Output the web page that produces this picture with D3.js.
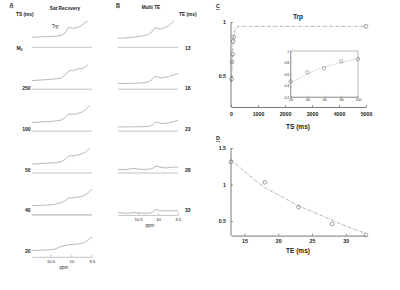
<!DOCTYPE html>
<html>
<head>
<meta charset="utf-8">
<script src="https://cdn.jsdelivr.net/npm/d3@7"></script>
<style>
  body, html { margin: 0; padding: 0; background: #fff; font-family: "Liberation Sans", Arial, sans-serif; }
  text { fill: #222; }
  .bold { font-weight: bold; }
</style>
</head>
<body>
<div id="container"></div>
<script>
// ---- data ----
const ppm = [11.0, 10.8, 10.6, 10.4, 10.25, 10.15, 10.08, 10.02, 9.97, 9.9, 9.82, 9.74, 9.66, 9.6, 9.55, 9.5];

const satLabels = ["M0", "250", "100", "50", "40", "20"];
const satSpectra = [
  [10, 10.3, 10.6, 11, 11.8, 14.3, 19.3, 19.8, 19, 19.3, 20.3, 22.3, 24.8, 26.3, null, null],
  [8.7, 9, 9.6, 10.2, 11, 14, 17.5, 18.8, 18.5, 19.5, 20.5, 20.5, 22.5, 24.5, null, null],
  [8.7, 9, 9.5, 10, 11, 13.5, 16.7, 17, 17, 17, 18, 19, 21.5, 24, 25.5, null],
  [9, 9.3, 9.8, 10.3, 11.2, 13.5, 16.6, 17.2, 17.3, 17.4, 18.2, 19.2, 21, 23, 25, null],
  [9.3, 9.4, 9.8, 10.5, 12.3, 14, 16.7, 17, 17.1, 17.4, 17.8, 18.5, 20, 22, 24, 25.7],
  [6.3, 6.5, 6.8, 7.6, 10.3, 11.2, 12, 12.2, 12.3, 12.5, 13, 13.5, 15, 16.5, 18.5, 19.7]
];

const teLabels = ["13", "18", "23", "28", "33"];
const teSpectra = [
  [9, 9.5, 10.2, 11.2, 12.8, 15.5, 19.5, 19.2, 18.4, 18.6, 20, 21.5, 24, 26.3, null, null],
  [5.7, 5.8, 6, 6.3, 7.2, 9.5, 12.8, 12.5, 11.8, 11.4, 12, 12.8, 13.5, 14.3, 15.2, 15.7],
  [4.2, 4.2, 4.3, 4.4, 4.6, 5.5, 8.5, 9, 8, 7.6, 7.8, 8.2, 8.8, 9.5, 10.2, 10.8],
  [3.3, 3.5, 4.6, 3.5, 3.8, 4.2, 6.3, 6.8, 6, 5.6, 5, 5.5, 5.8, 5.8, 6, 6],
  [2.3, 1.6, 2.3, 1.8, 1.6, 2.5, 5, 5.3, 4.4, 4, 4, 4.1, 4, 4.1, 4, 4]
];

const ppmTicks = [10.5, 10, 9.5];

const tsPoints = [20, 40, 60, 80, 100, 5000];
const tsValues = [0.47, 0.63, 0.70, 0.82, 0.86, 0.96];
const tsFitX = [20, 40, 60, 80, 100, 150, 200, 300, 500, 1000, 5000];
const tsFitY = [0.44, 0.60, 0.72, 0.80, 0.87, 0.93, 0.95, 0.96, 0.96, 0.96, 0.96];
const tsTicks = [0, 1000, 2000, 3000, 4000, 5000];
const tsYTicks = [0.5, 1];
const insetXTicks = [20, 40, 60, 80, 100];
const insetYTicks = [0.2, 0.4, 0.6, 0.8, 1];

const tePoints = [13, 18, 23, 28, 33];
const teValues = [1.31, 1.03, 0.69, 0.46, 0.31];
const teFitX = [13, 15, 18, 20, 23, 25, 28, 30, 33];
const teFitY = [1.34, 1.18, 0.96, 0.86, 0.71, 0.63, 0.51, 0.43, 0.33];
const teTicks = [15, 20, 25, 30];
const teYTicks = [0.5, 1, 1.5];

// ---- drawing ----
const svg = d3.select("#container").append("svg")
  .attr("width", 400).attr("height", 290)
  .style("display", "block").style("background", "#fff");

const rowY = d3.scaleLinear().domain([0, 1]).range([47.3, 89.2]);
const lblY = d3.scaleLinear().domain([0, 1]).range([48, 88.6]);
const inten = d3.scaleLinear().domain([0, 30]).range([0, 30]);

function spectraPanel(spectra, labels, x0, x1, dom, lblX, lblAnchor, thickRow) {
  const x = d3.scaleLinear().domain(dom).range([x0, x1]);
  const g = svg.append("g");
  const n = spectra.length;
  spectra.forEach((vals, i) => {
    const base = rowY(i);
    const pts = ppm.map((p, j) => [p, vals[j]]);
    const line = d3.line()
      .defined(d => d[1] != null)
      .x(d => x(Math.max(Math.min(d[0], dom[0]), dom[1])))
      .y(d => base - inten(d[1]));
    if (i < n - 1) {
      const thick = i === thickRow;
      g.append("line").attr("x1", x0).attr("x2", x1)
        .attr("y1", base).attr("y2", base)
        .attr("stroke", thick ? "#ccc" : "#aaa").attr("stroke-width", thick ? 1.8 : 0.7);
    }
    g.append("path").datum(pts).attr("d", line)
      .attr("fill", "none").attr("stroke", "#999").attr("stroke-width", 0.7);
    const t = g.append("text").attr("class", "bold")
      .attr("x", lblX).attr("y", lblY(i)).attr("dy", "0.35em")
      .attr("text-anchor", lblAnchor).style("font-size", "5px");
    if (labels[i] === "M0") {
      t.attr("text-anchor", "end").attr("x", lblX - 8);
      t.append("tspan").text("M");
      t.append("tspan").attr("dy", "1.2").style("font-size", "3.5px").text("0");
    } else {
      t.text(labels[i]);
    }
  });
  // bottom axis
  const ax = g.append("g").attr("transform", `translate(0,${rowY(n - 1)})`)
    .call(d3.axisBottom(x).tickValues(ppmTicks).tickFormat(d3.format("")).tickSize(-2).tickSizeOuter(0).tickPadding(3));
  ax.select(".domain").attr("stroke", "#aaa").attr("stroke-width", 0.7);
  ax.selectAll(".tick line").attr("stroke", "#888").attr("stroke-width", 0.5);
  ax.selectAll("text").style("font-size", "4.2px").attr("fill", "#444").attr("font-family", "Liberation Sans, Arial, sans-serif");
  g.append("text").attr("x", (x0 + x1) / 2 + 2).attr("y", rowY(n - 1) + 12)
    .attr("text-anchor", "middle").style("font-size", "4.5px").attr("fill", "#444").text("ppm");
  return g;
}

// Panel A
spectraPanel(satSpectra, satLabels, 32, 92, [10.95, 9.5], 30.5, "end", 4);
svg.append("text").attr("class", "bold").attr("x", 9.5).attr("y", 6.5)
  .style("font-size", "5.5px").style("text-decoration", "underline").text("A");
svg.append("text").attr("class", "bold").attr("x", 65).attr("y", 9.5)
  .attr("text-anchor", "middle").style("font-size", "4.8px").text("Sat Recovery");
svg.append("text").attr("class", "bold").attr("x", 16).attr("y", 15.5)
  .style("font-size", "4.8px").text("TS (ms)");
svg.append("text").attr("x", 52).attr("y", 28).style("font-size", "4.5px").attr("fill", "#444").text("Trp");

// Panel B
spectraPanel(teSpectra, teLabels, 118, 178, [11.0, 9.5], 185, "start", -1);
svg.append("text").attr("class", "bold").attr("x", 116).attr("y", 6.5)
  .style("font-size", "5.5px").style("text-decoration", "underline").text("B");
svg.append("text").attr("class", "bold").attr("x", 151).attr("y", 8.5)
  .attr("text-anchor", "middle").style("font-size", "4.8px").text("Multi TE");
svg.append("text").attr("class", "bold").attr("x", 179).attr("y", 15.5)
  .style("font-size", "4.8px").text("TE (ms)");

// helper for the right-hand plots
function styleAxis(sel, fs) {
  sel.select(".domain").attr("stroke", "#555").attr("stroke-width", 0.8);
  sel.selectAll(".tick line").attr("stroke", "#555").attr("stroke-width", 0.6);
  sel.selectAll("text").attr("font-weight", "bold").style("font-size", fs)
    .attr("font-family", "Liberation Sans, Arial, sans-serif").attr("fill", "#222");
}

// Panel C
const cx = d3.scaleLinear().domain([0, 5000]).range([231, 366]);
const cy = d3.scaleLinear().domain([0.21, 1]).range([107, 22]);
const gC = svg.append("g");
gC.append("g").attr("transform", "translate(0,107)")
  .call(d3.axisBottom(cx).tickValues(tsTicks).tickFormat(d3.format("d")).tickSize(-2).tickSizeOuter(0).tickPadding(5))
  .call(s => styleAxis(s, "5.2px"));
gC.append("g").attr("transform", "translate(231,0)")
  .call(d3.axisLeft(cy).tickValues(tsYTicks).tickFormat(d3.format("")).tickSize(-2).tickSizeOuter(0).tickPadding(5))
  .call(s => styleAxis(s, "5.2px"))
  .call(s => s.select(".domain").attr("d", `M0,${cy(1)}V107`));
gC.append("path").datum(d3.zip(tsFitX, tsFitY))
  .attr("d", d3.line().x(d => cx(d[0])).y(d => cy(d[1])))
  .attr("fill", "none").attr("stroke", "#888").attr("stroke-width", 0.7).attr("stroke-dasharray", "3,1.2,0.8,1.2");
gC.selectAll("circle").data(d3.zip(tsPoints, tsValues)).join("circle")
  .attr("cx", d => cx(d[0])).attr("cy", d => cy(d[1])).attr("r", 1.9)
  .attr("fill", "none").attr("stroke", "#666").attr("stroke-width", 0.6);
svg.append("text").attr("class", "bold").attr("x", 216).attr("y", 8)
  .style("font-size", "5.5px").style("text-decoration", "underline").text("C");
svg.append("text").attr("class", "bold").attr("x", 298).attr("y", 18.5)
  .attr("text-anchor", "middle").style("font-size", "6.5px").text("Trp");
svg.append("text").attr("class", "bold").attr("x", 298).attr("y", 129)
  .attr("text-anchor", "middle").style("font-size", "6.5px").text("TS (ms)");

// inset
const ix = d3.scaleLinear().domain([20, 100]).range([290.5, 358]);
const iy = d3.scaleLinear().domain([0.2, 1]).range([97, 51]);
const gI = svg.append("g");
gI.append("rect").attr("x", 290.5).attr("y", 51).attr("width", 67.5).attr("height", 46)
  .attr("fill", "#fff").attr("stroke", "#777").attr("stroke-width", 0.5);
const iax = gI.append("g").attr("transform", "translate(0,97)")
  .call(d3.axisBottom(ix).tickValues(insetXTicks).tickSize(-1.2).tickSizeOuter(0).tickPadding(2));
const iay = gI.append("g").attr("transform", "translate(290.5,0)")
  .call(d3.axisLeft(iy).tickValues(insetYTicks).tickFormat(d3.format("")).tickSize(-1.2).tickSizeOuter(0).tickPadding(1.5));
[iax, iay].forEach(s => {
  s.select(".domain").attr("stroke", "#777").attr("stroke-width", 0.5);
  s.selectAll(".tick line").attr("stroke", "#777").attr("stroke-width", 0.4);
  s.selectAll("text").style("font-size", "3.3px").attr("fill", "#555").attr("font-family", "Liberation Sans, Arial, sans-serif");
});
gI.append("path").datum(d3.zip(tsFitX, tsFitY).filter(d => d[0] <= 100))
  .attr("d", d3.line().curve(d3.curveMonotoneX).x(d => ix(d[0])).y(d => iy(d[1])))
  .attr("fill", "none").attr("stroke", "#999").attr("stroke-width", 0.6).attr("stroke-dasharray", "0.8,0.8");
gI.selectAll("circle").data(d3.zip(tsPoints, tsValues).filter(d => d[0] <= 100)).join("circle")
  .attr("cx", d => ix(d[0])).attr("cy", d => iy(d[1])).attr("r", 1.7)
  .attr("fill", "none").attr("stroke", "#666").attr("stroke-width", 0.5);

// Panel D
const dx = d3.scaleLinear().domain([13, 33]).range([231, 366]);
const dy = d3.scaleLinear().domain([0.3, 1.5]).range([235.6, 148]);
const gD = svg.append("g");
gD.append("g").attr("transform", "translate(0,235.6)")
  .call(d3.axisBottom(dx).tickValues(teTicks).tickSize(-2).tickSizeOuter(0).tickPadding(4))
  .call(s => styleAxis(s, "5.2px"));
gD.append("g").attr("transform", "translate(231,0)")
  .call(d3.axisLeft(dy).tickValues(teYTicks).tickFormat(d3.format("")).tickSize(-2).tickSizeOuter(0).tickPadding(5))
  .call(s => styleAxis(s, "5.2px"))
  .call(s => s.select(".domain").attr("d", `M0,${dy(1.5)}V235.6`));
gD.append("path").datum(d3.zip(teFitX, teFitY))
  .attr("d", d3.line().curve(d3.curveMonotoneX).x(d => dx(d[0])).y(d => dy(d[1])))
  .attr("fill", "none").attr("stroke", "#888").attr("stroke-width", 0.7).attr("stroke-dasharray", "3,1.2,0.8,1.2");
gD.selectAll("circle").data(d3.zip(tePoints, teValues)).join("circle")
  .attr("cx", d => dx(d[0])).attr("cy", d => dy(d[1])).attr("r", 1.9)
  .attr("fill", "none").attr("stroke", "#666").attr("stroke-width", 0.6);
svg.append("text").attr("class", "bold").attr("x", 216).attr("y", 140)
  .style("font-size", "5.5px").style("text-decoration", "underline").text("D");
svg.append("text").attr("class", "bold").attr("x", 298).attr("y", 253)
  .attr("text-anchor", "middle").style("font-size", "6.5px").text("TE (ms)");
</script>
</body>
</html>
